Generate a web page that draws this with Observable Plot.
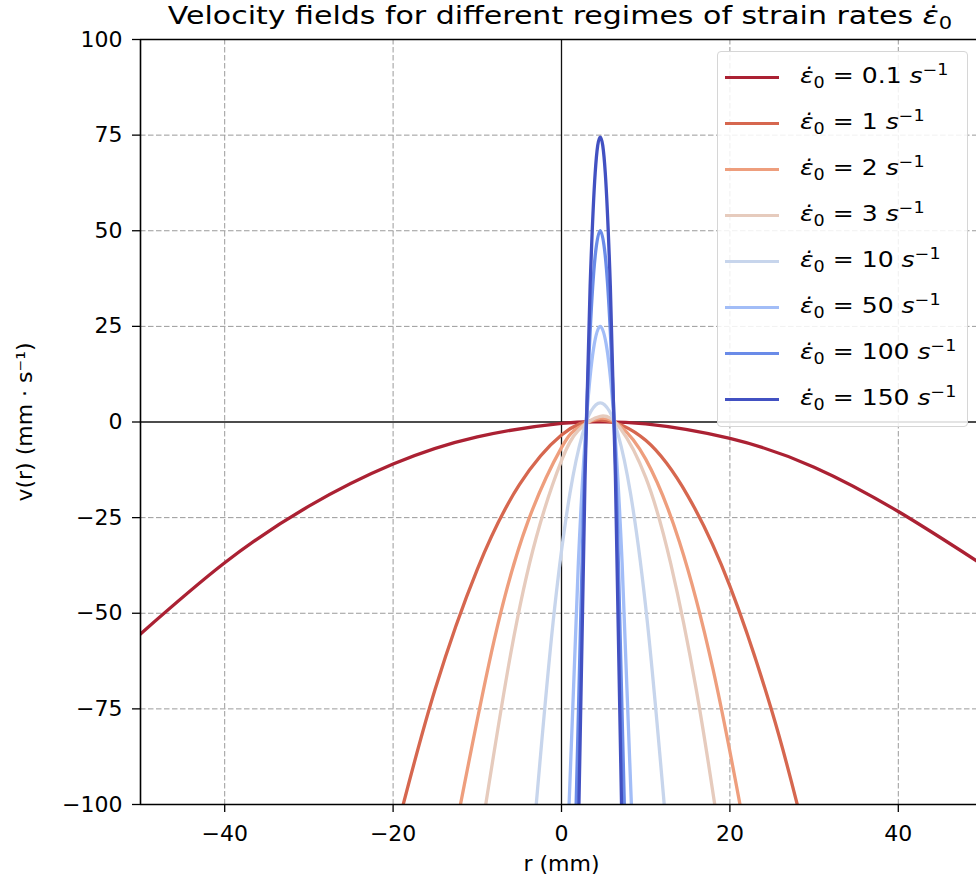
<!DOCTYPE html>
<html>
<head>
<meta charset="utf-8">
<script src="https://cdn.jsdelivr.net/npm/d3@7"></script>
<script src="https://cdn.jsdelivr.net/npm/@observablehq/plot@0.6"></script>
<style>
  html, body { margin: 0; padding: 0; background: #fff; overflow: hidden; }
  #wrap { position: relative; width: 976px; height: 883px; overflow: hidden; font-family: "DejaVu Sans", sans-serif; }
  #chart svg { max-width: none !important; display: block; }
  #title { position: absolute; left: 560px; top: 1px; line-height: 30px; transform: translateX(-50%) scaleX(1.2); font-size: 25px; white-space: nowrap; color: #000; }
  #legend { position: absolute; left: 717px; top: 51px; width: 251px; height: 376px; box-sizing: border-box;
            border: 1px solid #d6d6d6; border-radius: 4px; background: rgba(255,255,255,0.85); padding-top: 2px; }
  .row { height: 46px; display: flex; align-items: center; }
  .sw { width: 54px; height: 3px; margin-left: 7px; margin-right: 21px; flex: none; }
  .lt { font-size: 22px; white-space: nowrap; color: #000; transform: scaleX(1.14); transform-origin: left center; }
  .lt i { font-style: italic; }
  .lt sub { font-size: 70%; vertical-align: -0.3em; }
  .lt sup { font-size: 70%; vertical-align: 0.55em; }
  #title sub { font-size: 70%; vertical-align: -0.3em; }
  #chart svg text { font-size: 22px; font-family: "DejaVu Sans"; }
</style>
</head>
<body>
<div id="wrap">
  <div id="chart"></div>
  <div id="title">Velocity fields for different regimes of strain rates <i>ε̇</i><sub>0</sub></div>
  <div id="legend"></div>
</div>
<script>
// Strain rates (legend order)
const rates = [0.1, 1, 2, 3, 10, 50, 100, 150];
const rateLabels = ["0.1", "1", "2", "3", "10", "50", "100", "150"];

// Readings of each curve: r (mm) and v(r) (mm/s)
const r_01  = [-50, -40, -30, -20, -10, 0, 4.6, 10, 20, 30, 40, 50];
const v_01  = [-55.4, -36.8, -22.0, -11.0, -3.9, -0.35, 0.05, -0.5, -4.3, -11.8, -23.4, -37.3];
const r_1   = [-18.8, -15, -10, -5, 0, 4.6, 10, 15, 20, 25, 28.0];
const v_1   = [-100, -69.8, -38.5, -16.4, -3.4, 0.5, -4.8, -19.3, -42.9, -75.7, -100];
const r_2   = [-12, -8, -4, 0, 2, 4.6, 7, 10, 14, 18, 21.2];
const v_2   = [-100, -57.1, -26.1, -6.7, -1.5, 1.0, -1.1, -9.7, -31.3, -64.7, -100];
const r_3   = [-9, -6, -3, 0, 2, 4.6, 7, 10, 13, 16, 18.2];
const v_3   = [-100, -60.2, -30.2, -10.1, -2.2, 1.5, -1.7, -14.5, -37.3, -69.9, -100];
const r_10  = [-3, -1, 1, 2.5, 3.5, 4.6, 5.7, 6.7, 8.2, 10.2, 12.2];
const v_10  = [-100, -52.4, -18.7, -3.1, 2.8, 5.0, 2.8, -3.1, -18.7, -52.4, -100];
const r_50  = [0.9, 2, 3, 3.8, 4.6, 5.4, 6.2, 7.2, 8.3];
const v_50  = [-100, -36.9, 1.6, 19.1, 25, 19.1, 1.6, -36.9, -100];
const r_100 = [1.74, 2.6, 3.4, 4.0, 4.6, 5.2, 5.8, 6.6, 7.46];
const v_100 = [-100, -23.2, 23.6, 43.4, 50, 43.4, 23.6, -23.2, -100];
const r_150 = [2.07, 2.8, 3.4, 4.0, 4.6, 5.2, 5.8, 6.4, 7.13];
const v_150 = [-100, -13.9, 35.5, 65.1, 74.5, 65.1, 35.5, -13.9, -100];

// Tick values
const xTicks = [-40, -20, 0, 20, 40];
const yTicks = [-100, -75, -50, -25, 0, 25, 50, 75, 100];

const colors = ["#ab2133", "#d6674f", "#ee9e7d", "#e6cbbd", "#c7d5ec", "#a2bdf7", "#6a8be8", "#4251c2"];

const seriesR = [r_01, r_1, r_2, r_3, r_10, r_50, r_100, r_150];
const seriesV = [v_01, v_1, v_2, v_3, v_10, v_50, v_100, v_150];
const data = rates.flatMap((k, i) => seriesR[i].map((r, j) => ({rate: k, r, v: seriesV[i][j]})));

const gridStyle = {stroke: "#9a9a9a", strokeOpacity: 1, strokeWidth: 1, strokeDasharray: "5.5,2.5"};

const chart = Plot.plot({
  width: 984,
  height: 883,
  marginLeft: 140,
  marginRight: 2,
  marginTop: 39,
  marginBottom: 79,
  style: {fontFamily: "DejaVu Sans", fontSize: "22px", color: "#000", background: "transparent"},
  x: {domain: [-50, 50]},
  y: {domain: [-100, 100]},
  color: {type: "ordinal", domain: rates, range: colors},
  marks: [
    Plot.gridX(xTicks.filter(d => d !== 0), gridStyle),
    Plot.gridY(yTicks.filter(d => d !== 0 && Math.abs(d) !== 100), gridStyle),
    Plot.ruleY([0], {stroke: "#111", strokeWidth: 1.3}),
    Plot.ruleX([0], {stroke: "#111", strokeWidth: 1.3}),
    Plot.line(data, {x: "r", y: "v", z: "rate", stroke: "rate", strokeWidth: 3.3, curve: "natural", clip: true}),
    Plot.axisX({ticks: xTicks, tickSize: 8, tickPadding: 13, tickFormat: d3.format("d"), strokeWidth: 1.3,
                label: "r (mm)", labelAnchor: "center", labelArrow: "none", labelOffset: 66}),
    Plot.axisY({ticks: yTicks, tickSize: 8, tickPadding: 10, tickFormat: d3.format("d"), strokeWidth: 1.3,
                label: "v(r) (mm · s⁻¹)", labelAnchor: "center", labelArrow: "none", labelOffset: 124}),
    Plot.ruleX([-50], {stroke: "#000", strokeWidth: 1.6}),
    Plot.ruleY([100], {stroke: "#000", strokeWidth: 1.6}),
    Plot.ruleY([-100], {stroke: "#000", strokeWidth: 1.6})
  ]
});
document.getElementById("chart").appendChild(chart);

const legend = document.getElementById("legend");
rates.forEach((k, i) => {
  const row = document.createElement("div");
  row.className = "row";
  row.innerHTML = `<div class="sw" style="background:${colors[i]}"></div>` +
    `<div class="lt"><i>ε̇</i><sub>0</sub> = ${rateLabels[i]} <i>s</i><sup>−1</sup></div>`;
  legend.appendChild(row);
});
</script>
</body>
</html>
